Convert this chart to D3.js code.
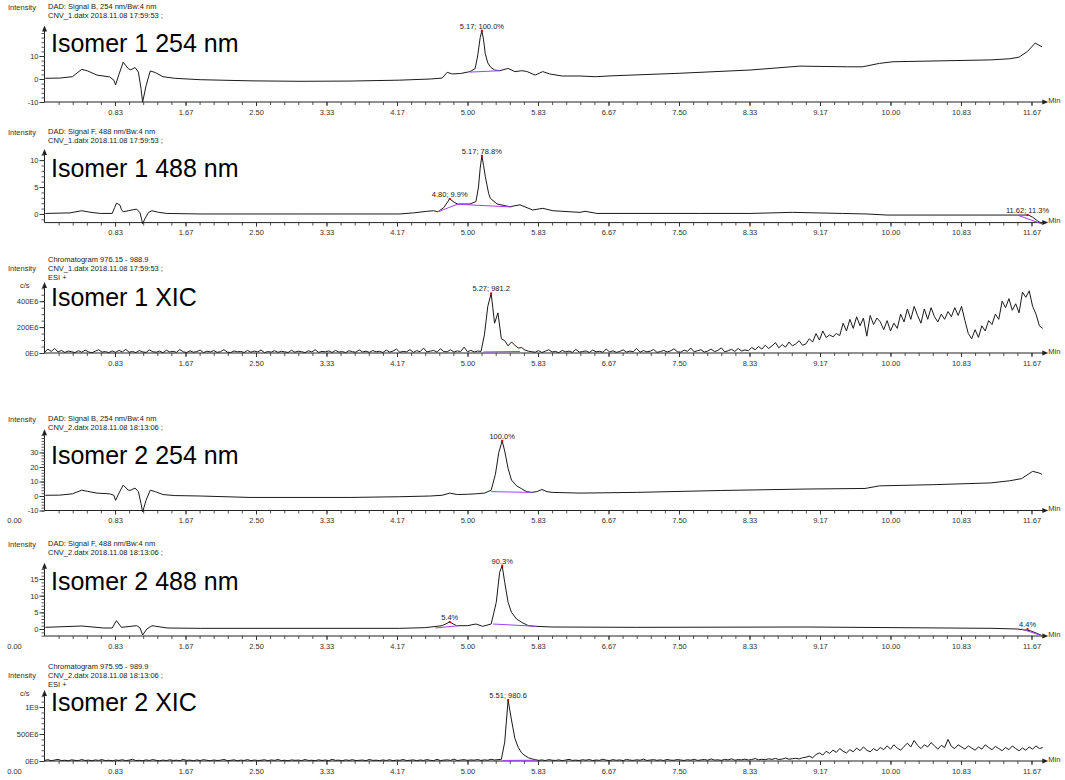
<!DOCTYPE html>
<html><head><meta charset="utf-8">
<script src="https://cdn.jsdelivr.net/npm/d3@7"></script>
<style>body{margin:0;background:#fff} text{font-family:"Liberation Sans",Arial,sans-serif}</style>
</head><body><svg id="c" width="1065" height="780"></svg>
<script>
// ---------- DATA ----------
const xMajorTicks = [0.8333,1.6667,2.5,3.3333,4.1667,5,5.8333,6.6667,7.5,8.3333,9.1667,10,10.8333,11.6667];
const xMajorLabels = ["0.83","1.67","2.50","3.33","4.17","5.00","5.83","6.67","7.50","8.33","9.17","10.00","10.83","11.67"];
const xZeroLabel = "0.00";

const iso1_254 = [[0.01,0.3],[0.18,0.4],[0.33,1.0],[0.44,4.2],[0.51,3.5],[0.62,1.7],[0.77,0.9],[0.82,-0.5],[0.84,-2.6],[0.88,2],[0.93,7.3],[0.99,4.5],[1.02,4.0],[1.07,5.0],[1.11,3.0],[1.14,-4],[1.16,-10],[1.20,-3],[1.25,3.5],[1.31,2.8],[1.40,1.0],[1.54,0.3],[1.84,-0.3],[2.43,-0.8],[3.02,-1.0],[3.61,-0.9],[4.20,-0.5],[4.56,0],[4.70,0.4],[4.76,2.9],[4.82,2.2],[4.92,2.4],[5.03,3.2],[5.09,4.5],[5.12,10],[5.15,18],[5.17,21],[5.19,17],[5.21,11],[5.24,7],[5.27,5.3],[5.32,3.9],[5.38,3.6],[5.48,4.6],[5.56,3.2],[5.64,3.6],[5.70,3.3],[5.80,1.7],[5.89,3.2],[5.97,2.2],[6.12,1.3],[6.33,1.3],[6.51,1.0],[6.72,1.4],[7.51,2.5],[8.34,3.9],[8.93,5.6],[9.49,5.3],[9.67,5.3],[9.87,6.8],[10.03,7.5],[11.18,8.3],[11.41,8.8],[11.52,9.5],[11.62,12],[11.71,15.6],[11.79,14]];

const iso1_488 = [[0.01,0.1],[0.30,0.2],[0.44,0.6],[0.55,0.3],[0.66,0.1],[0.80,0.1],[0.83,1.2],[0.85,2.0],[0.89,1.7],[0.91,0.8],[0.93,0.4],[0.99,0.6],[1.05,0.8],[1.09,0.9],[1.13,0.2],[1.16,-1.8],[1.19,-0.8],[1.23,0.3],[1.27,0.6],[1.35,0.3],[1.45,0.1],[1.84,0],[3.0,0],[4.20,0],[4.36,0.2],[4.52,0.5],[4.60,0.6],[4.65,0.4],[4.72,1.2],[4.79,2.8],[4.84,2.2],[4.88,1.85],[5.03,1.85],[5.10,2.3],[5.13,5],[5.15,8.5],[5.17,10.8],[5.19,9],[5.21,7],[5.23,5.4],[5.25,3.8],[5.27,2.9],[5.35,1.85],[5.50,1.35],[5.62,1.7],[5.77,0.74],[5.89,1.05],[6.01,0.6],[6.33,0.3],[6.39,0.5],[6.53,0.1],[7.75,0.1],[8.34,0.1],[8.84,0.3],[9.43,0.1],[9.72,0],[9.96,-0.2],[11.50,-0.2],[11.63,-0.2],[11.68,-0.6],[11.74,-1.3],[11.80,-1.9]];

const xicStep = 0.04; // min per sample
const iso1_xic = [5,30,12,35,8,20,4,15,10,3,18,6,22,9,2,14,25,7,11,3,
 16,5,20,8,28,6,12,3,19,9,4,24,10,6,15,2,21,8,13,5,
 27,9,4,17,6,11,22,3,14,8,19,5,10,26,7,3,16,9,12,4,
 20,6,15,8,23,3,11,7,18,5,13,9,4,21,6,14,10,3,17,8,
 25,5,12,9,16,4,20,7,11,3,18,10,6,24,8,14,5,19,9,13,
 4,22,7,15,30,6,12,9,26,5,18,10,38,8,14,20,6,33,11,9,
 25,7,16,12,45,10,20,8,
 15,12,140,360,460,230,310,110,95,55,85,60,38,42,22,14,
 10,6,18,4,14,25,8,12,3,20,9,15,5,28,7,11,16,4,22,9,
 13,6,30,8,17,5,12,24,7,15,10,35,6,19,9,14,27,5,11,20,
 8,16,32,10,6,22,13,38,9,18,25,7,15,30,11,20,40,9,17,28,
 12,35,15,24,18,42,
 25,50,30,60,35,55,80,40,65,45,85,55,70,95,60,
 70,110,85,150,100,170,120,140,125,150,135,230,170,260,190,280,210,270,130,290,220,270,240,180,250,
 170,230,190,300,240,340,260,360,290,230,340,260,350,280,240,300,260,320,280,350,290,360,250,150,110,
 180,120,210,170,250,220,300,260,400,350,420,330,380,310,470,430,480,360,300,210,190];

const iso2_254 = [[0.01,0.5],[0.18,0.6],[0.33,1.5],[0.44,4],[0.51,3.2],[0.62,2],[0.77,1.5],[0.82,0.5],[0.84,-3],[0.88,2],[0.93,7.5],[0.99,4],[1.02,4],[1.07,5.5],[1.11,3],[1.14,-5],[1.16,-11],[1.20,-3],[1.25,4],[1.31,3],[1.40,1],[1.54,0.3],[1.84,0],[2.43,-1],[3.02,-1],[3.61,-1],[4.20,-0.5],[4.56,0],[4.70,0.5],[4.79,2],[4.88,1],[5.0,1.2],[5.10,1.5],[5.20,2],[5.28,4],[5.33,15],[5.37,30],[5.41,38],[5.44,31],[5.48,19],[5.52,11],[5.58,7],[5.64,5],[5.70,3],[5.76,2.5],[5.82,3],[5.88,4.5],[5.94,3],[6.0,2.5],[6.33,2],[7.0,2.5],[8.0,3.8],[9.0,4.8],[9.7,5.2],[9.87,7],[10.5,7.8],[11.18,9],[11.41,10.5],[11.55,12],[11.68,17],[11.75,16],[11.79,15]];

const iso2_488 = [[0.01,0.5],[0.44,0.9],[0.70,0.3],[0.80,0.3],[0.85,2.5],[0.91,0.5],[1.09,1],[1.13,0.3],[1.16,-1.8],[1.21,0],[1.27,1],[1.45,0.3],[1.84,0.2],[4.20,0.2],[4.50,0.4],[4.70,1],[4.79,2.1],[4.87,1],[5.0,1],[5.10,1.5],[5.18,0.8],[5.28,1.5],[5.34,8],[5.38,17],[5.41,19],[5.44,14],[5.48,8],[5.52,5],[5.58,3],[5.64,2],[5.72,1],[5.80,0.8],[6.0,0.6],[7.0,0.5],[9.0,0.6],[11.2,0.2],[11.5,0],[11.65,-0.5],[11.75,-1.5],[11.80,-2.1]];

const iso2_xic = [10,25,5,18,30,8,15,3,22,12,6,28,9,17,4,20,11,26,7,14,
 3,19,10,24,6,16,31,8,13,5,21,9,27,12,4,18,7,23,10,15,
 6,29,11,17,3,20,8,25,13,5,19,9,14,30,7,12,22,4,16,10,
 26,6,18,9,13,24,5,20,11,28,7,15,3,21,12,17,8,27,10,14,
 5,23,9,19,6,31,12,16,4,22,10,25,8,13,18,6,29,11,15,7,
 20,9,24,5,17,12,28,8,14,21,6,19,10,26,13,7,30,9,16,22,
 11,35,8,18,25,12,20,15,28,10,22,14,32,18,25,
 30,350,1130,760,420,250,150,100,60,40,25,
 12,20,8,26,15,10,22,6,18,30,11,16,9,24,14,28,7,19,12,33,
 15,9,25,13,20,8,29,17,11,23,14,35,10,18,26,12,21,9,30,16,
 13,27,19,10,24,15,32,11,20,28,14,38,17,22,12,30,19,40,15,26,
 21,35,18,28,45,22,32,25,40,30,48,28,36,55,33,42,50,38,60,
 70,90,60,120,150,110,180,140,200,160,230,180,150,210,170,240,190,260,200,170,230,190,250,210,280,
 220,300,240,200,270,330,260,380,290,230,300,260,340,280,220,290,250,400,270,230,300,260,220,280,240,
 200,260,220,300,250,210,270,230,190,250,210,280,230,190,240,200,260,220,280,230,250];

// integration baselines [[t0,v0],[t1,v1]]
const base1_254 = [[[5.03,3.0],[5.38,3.6]]];
const base1_488 = [[[4.65,0.4],[4.88,1.8]],[[4.88,1.8],[5.52,1.3]],[[11.50,-0.2],[11.80,-1.9]]];
const base1_xic = [[[5.19,8],[5.62,12]]];
const base2_254 = [[[5.28,3],[5.76,2.5]]];
const base2_488 = [[[4.62,0.3],[4.90,1]],[[5.30,1.5],[5.82,0.8]],[[11.55,0],[11.80,-2.1]]];
const base2_xic = [[[5.42,10],[5.82,15]]];

// peak annotations [t, v, label]
const peaks1_254 = [[5.17,21,"5.17; 100.0%"]];
const peaks1_488 = [[4.79,2.8,"4.80; 9.9%"],[5.17,10.8,"5.17; 78.8%"],[11.62,-0.2,"11.62; 11.3%"]];
const peaks1_xic = [[5.28,460,"5.27; 981.2"]];
const peaks2_254 = [[5.41,38,"100.0%"]];
const peaks2_488 = [[4.79,2.1,"5.4%"],[5.41,19,"90.3%"],[11.62,0,"4.4%"]];
const peaks2_xic = [[5.48,1130,"5.51; 980.6"]];

// y ticks
const yT1 = [-10,0,10], yL1 = ["-10","0","10"];
const yT2 = [0,5,10], yL2 = ["0","5","10"];
const yT3 = [0,200,400], yL3 = ["0E0","200E6","400E6"];
const yT4 = [-10,0,10,20,30], yL4 = ["-10","0","10","20","30"];
const yT5 = [0,5,10,15], yL5 = ["0","5","10","15"];
const yT6 = [0,500,1000], yL6 = ["0E0","500E6","1E9"];

const titles = ["Isomer 1 254 nm","Isomer 1 488 nm","Isomer 1 XIC","Isomer 2 254 nm","Isomer 2 488 nm","Isomer 2 XIC"];
const headers = [
 ["DAD: Signal B, 254 nm/Bw:4 nm","CNV_1.datx 2018.11.08 17:59:53 ;"],
 ["DAD: Signal F, 488 nm/Bw:4 nm","CNV_1.datx 2018.11.08 17:59:53 ;"],
 ["Chromatogram 976.15 - 988.9","CNV_1.datx 2018.11.08 17:59:53 ;","ESI +"],
 ["DAD: Signal B, 254 nm/Bw:4 nm","CNV_2.datx 2018.11.08 18:13:06 ;"],
 ["DAD: Signal F, 488 nm/Bw:4 nm","CNV_2.datx 2018.11.08 18:13:06 ;"],
 ["Chromatogram 975.95 - 989.9","CNV_2.datx 2018.11.08 18:13:06 ;","ESI +"]
];

// ---------- DRAW ----------
const svg = d3.select("#c");
const X_MAX = 11.83;
const x = d3.scaleLinear().domain([0, X_MAX]).range([44.5, 1045.3]);
const minorX = d3.range(1, 71).map(k => k / 6);
const toPairs = arr => arr.map((v, i) => [i * xicStep, v]);

const panels = [
 {trace: iso1_254, base: base1_254, peaks: peaks1_254, yT: yT1, yL: yL1, minor: 2, dom: [-10, 22], axisY: 102, topY: 28.4, hy: 9, ty: 52, zero: false},
 {trace: iso1_488, base: base1_488, peaks: peaks1_488, yT: yT2, yL: yL2, minor: 1, dom: [-1.6, 11.5], axisY: 222.6, topY: 152, hy: 134, ty: 177, zero: false},
 {trace: toPairs(iso1_xic), base: base1_xic, peaks: peaks1_xic, yT: yT3, yL: yL3, minor: 50, dom: [0, 525], axisY: 353, topY: 285, hy: 262, ty: 306, zero: false, unit: true},
 {trace: iso2_254, base: base2_254, peaks: peaks2_254, yT: yT4, yL: yL4, minor: 2, dom: [-10, 44], axisY: 510.5, topY: 432.2, hy: 421, ty: 464, zero: true},
 {trace: iso2_488, base: base2_488, peaks: peaks2_488, yT: yT5, yL: yL5, minor: 1, dom: [-2.1, 19], axisY: 636, topY: 565.7, hy: 546, ty: 590, zero: true},
 {trace: toPairs(iso2_xic), base: base2_xic, peaks: peaks2_xic, yT: yT6, yL: yL6, minor: 100, dom: [0, 1260], axisY: 761, topY: 693, hy: 669, ty: 711, zero: true, unit: true}
];

const FS = 7.5;
panels.forEach((p, pi) => {
  const g = svg.append("g");
  const y = d3.scaleLinear().domain(p.dom).range([p.axisY, p.topY]);
  // headers
  const hl = headers[pi];
  const isXic = hl.length === 3;
  g.append("text").attr("x", 8).attr("y", p.hy + (isXic ? 9 : 1)).attr("font-size", FS).attr("fill", "#333").text("Intensity");
  hl.forEach((t, i) => g.append("text").attr("x", 48).attr("y", p.hy + i * 9).attr("font-size", FS).attr("fill", "#222").text(t));
  // title
  g.append("text").attr("x", 51).attr("y", p.ty).attr("font-size", 25).attr("fill", "#000").text(titles[pi]);
  // x axis minor ticks
  const gxm = g.append("g").attr("transform", `translate(0,${p.axisY})`)
    .call(d3.axisBottom(x).tickValues(minorX).tickSize(3).tickFormat(""));
  gxm.select(".domain").remove();
  gxm.selectAll("line").attr("stroke", "#555");
  const gx = g.append("g").attr("transform", `translate(0,${p.axisY})`)
    .call(d3.axisBottom(x).tickValues(xMajorTicks).tickSize(4).tickPadding(3.5).tickFormat((d, i) => xMajorLabels[i]));
  gx.select(".domain").remove();
  gx.selectAll("line").attr("stroke", "#333");
  gx.selectAll("text").attr("font-size", FS).attr("fill", "#333").attr("font-family", "Liberation Sans, Arial, sans-serif");
  if (p.zero) {
    g.append("text").attr("x", x(0) - 30).attr("y", p.axisY + 7.5).attr("dy", "0.71em").attr("text-anchor", "middle")
      .attr("font-size", FS).attr("fill", "#333").text(xZeroLabel);
  }
  // axis lines with arrows
  g.append("line").attr("x1", x(0)).attr("x2", x(X_MAX)).attr("y1", p.axisY).attr("y2", p.axisY).attr("stroke", "#222");
  const ax = x(X_MAX);
  g.append("path").attr("d", `M${ax + 3},${p.axisY} L${ax - 3},${p.axisY - 2.5} L${ax - 3},${p.axisY + 2.5} Z`).attr("fill", "#222");
  g.append("text").attr("x", ax + 3).attr("y", p.axisY + 0.5).attr("font-size", FS).attr("fill", "#333").text("Min");
  g.append("line").attr("x1", x(0)).attr("x2", x(0)).attr("y1", p.axisY).attr("y2", p.topY).attr("stroke", "#222");
  const x0 = x(0);
  g.append("path").attr("d", `M${x0},${p.topY - 3} L${x0 - 2.5},${p.topY + 3} L${x0 + 2.5},${p.topY + 3} Z`).attr("fill", "#222");
  if (p.unit) g.append("text").attr("x", 20).attr("y", p.topY + 2.5).attr("font-size", FS).attr("fill", "#333").text("c/s");
  // y axis ticks
  const minorY = d3.range(Math.ceil(p.dom[0] / p.minor) * p.minor, p.dom[1], p.minor);
  const gym = g.append("g").attr("transform", `translate(${x0},0)`).call(d3.axisLeft(y).tickValues(minorY).tickSize(3).tickFormat(""));
  gym.select(".domain").remove();
  gym.selectAll("line").attr("stroke", "#555");
  const gy = g.append("g").attr("transform", `translate(${x0},0)`).call(d3.axisLeft(y).tickValues(p.yT).tickSize(5).tickPadding(1).tickFormat((d, i) => p.yL[i]));
  gy.select(".domain").remove();
  gy.selectAll("line").attr("stroke", "#333");
  gy.selectAll("text").attr("font-size", FS).attr("fill", "#333").attr("font-family", "Liberation Sans, Arial, sans-serif");
  // trace
  const line = d3.line().x(d => x(d[0])).y(d => y(d[1]));
  g.append("path").datum(p.trace).attr("d", line).attr("fill", "none").attr("stroke", "#1a1a1a").attr("stroke-width", 1);
  // baselines
  p.base.forEach(b => g.append("path").datum(b).attr("d", line).attr("fill", "none").attr("stroke", "#a040ff").attr("stroke-width", 1));
  // peaks
  p.peaks.forEach(pk => {
    g.append("rect").attr("x", x(pk[0]) - 1).attr("y", y(pk[1]) - 1).attr("width", 2).attr("height", 2).attr("fill", "#d00000");
    g.append("text").attr("x", x(pk[0])).attr("y", y(pk[1]) - 2).attr("text-anchor", "middle").attr("font-size", FS).attr("fill", "#222").text(pk[2]);
  });
});
</script></body></html>
